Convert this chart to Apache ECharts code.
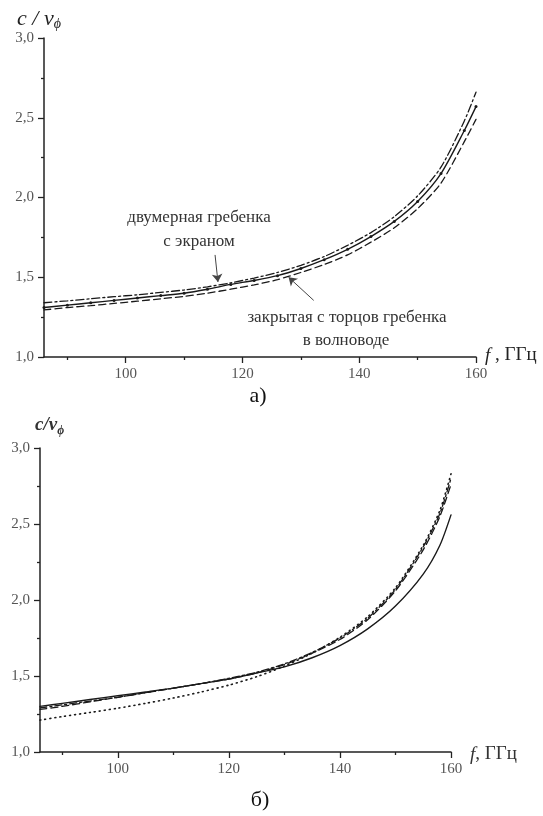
<!DOCTYPE html>
<html lang="ru">
<head>
<meta charset="utf-8">
<script src="https://cdn.jsdelivr.net/npm/echarts@6/dist/echarts.min.js"></script>
</head>
<body style="margin: 0">
<div id="container" style="width: 543px; height: 816px"></div>
<script type="text/javascript">
    // частоты, ГГц, и значения c/v_ф
    var freqA = [86, 90, 94, 98, 102, 106, 110, 114, 118, 122, 126, 130, 134, 138, 142, 146, 150, 154, 158, 160];
    var solidA = [1.31, 1.325, 1.34, 1.355, 1.37, 1.385, 1.40, 1.425, 1.455, 1.48, 1.51, 1.555, 1.61, 1.675, 1.755, 1.85, 1.975, 2.15, 2.42, 2.57];
    var dashA = [1.295, 1.31, 1.322, 1.336, 1.35, 1.365, 1.38, 1.40, 1.425, 1.452, 1.485, 1.53, 1.58, 1.64, 1.72, 1.81, 1.93, 2.09, 2.35, 2.49];
    var dashDotA = [1.34, 1.352, 1.365, 1.378, 1.39, 1.405, 1.42, 1.44, 1.465, 1.495, 1.53, 1.575, 1.63, 1.70, 1.78, 1.88, 2.01, 2.19, 2.48, 2.66];

    var freqB = [86, 90, 95, 100, 105, 110, 115, 120, 125, 130, 135, 140, 145, 150, 155, 158, 160];
    var solidB = [1.30, 1.32, 1.345, 1.37, 1.395, 1.42, 1.45, 1.48, 1.52, 1.56, 1.62, 1.70, 1.81, 1.96, 2.17, 2.36, 2.56];
    var dashB = [1.28, 1.30, 1.33, 1.36, 1.39, 1.42, 1.45, 1.48, 1.52, 1.575, 1.65, 1.74, 1.87, 2.06, 2.33, 2.55, 2.76];
    var dashDotB = [1.29, 1.31, 1.335, 1.36, 1.39, 1.42, 1.45, 1.485, 1.525, 1.58, 1.655, 1.75, 1.88, 2.07, 2.35, 2.57, 2.80];
    var dotB = [1.21, 1.233, 1.26, 1.288, 1.32, 1.355, 1.395, 1.44, 1.495, 1.565, 1.65, 1.755, 1.89, 2.08, 2.36, 2.59, 2.83];

    var xLabels = [100, 120, 140, 160];
    var xMinor = [90, 110, 130, 150];

    function pairs(xs, ys) {
        return xs.map(function (x, i) { return [x, ys[i]]; });
    }
    function comma(v) {
        return v.toFixed(1).replace('.', ',');
    }

    var serif = 'Liberation Serif';
    var axisColor = '#222';
    var labelColor = '#555';

    function xAxes(grid) {
        return [{
            type: 'value', gridIndex: grid, min: 86, max: 160, position: 'bottom',
            splitLine: {show: false},
            axisLine: {lineStyle: {color: axisColor, width: 1.5}},
            axisTick: {customValues: xLabels, length: 6, lineStyle: {color: axisColor, width: 1.3}},
            axisLabel: {customValues: xLabels, margin: 10, color: labelColor, fontFamily: serif, fontSize: 15}
        }, {
            type: 'value', gridIndex: grid, min: 86, max: 160, position: 'bottom',
            splitLine: {show: false},
            axisLine: {show: false},
            axisTick: {customValues: xMinor, length: 3, lineStyle: {color: axisColor, width: 1.3}},
            axisLabel: {show: false}
        }];
    }
    function yAxis(grid) {
        return {
            type: 'value', gridIndex: grid, min: 1, max: 3, interval: 0.5,
            splitLine: {show: false},
            axisLine: {show: true, lineStyle: {color: axisColor, width: 1.5}},
            axisTick: {show: true, length: 6, lineStyle: {color: axisColor, width: 1.3}},
            minorTick: {show: true, splitNumber: 2, length: 3, lineStyle: {color: axisColor, width: 1.3}},
            axisLabel: {formatter: comma, margin: 10, color: labelColor, fontFamily: serif, fontSize: 15}
        };
    }
    function line(xi, yi, data, type, width, extra) {
        var s = {
            type: 'line', xAxisIndex: xi, yAxisIndex: yi, data: data,
            showSymbol: false, symbol: 'none', smooth: 0.25, silent: true,
            lineStyle: {color: '#1a1a1a', width: width, type: type, cap: 'round'}
        };
        for (var k in extra) s[k] = extra[k];
        return s;
    }

    var arrowStyle = {color: '#444', width: 1, type: 'solid'};

    var myChart = echarts.init(document.getElementById('container'));
    var option = {
        animation: false,
        grid: [
            {left: 44, top: 38, width: 432, height: 319},
            {left: 40, top: 448, width: 411, height: 304}
        ],
        xAxis: xAxes(0).concat(xAxes(1)),
        yAxis: [yAxis(0), yAxis(1)],
        series: [
            line(0, 0, pairs(freqA, dashA), [7, 4], 1.3),
            line(0, 0, pairs(freqA, dashDotA), [8, 3, 2, 3], 1.3),
            line(0, 0, pairs(freqA, solidA), 'solid', 1.4, {
                showSymbol: true, symbol: 'circle', symbolSize: 3,
                itemStyle: {color: '#1a1a1a'},
                markLine: {
                    silent: true, symbol: ['none', 'arrow'], symbolSize: 8,
                    label: {show: false}, lineStyle: arrowStyle,
                    data: [
                        [{coord: [115.3, 1.64]}, {coord: [115.8, 1.47]}],
                        [{coord: [132.2, 1.355]}, {coord: [127.9, 1.50]}]
                    ]
                }
            }),
            line(2, 1, pairs(freqB, dotB), [1, 4], 1.6),
            line(2, 1, pairs(freqB, dashB), [7, 4], 1.3),
            line(2, 1, pairs(freqB, dashDotB), [7, 3, 2, 3], 1.3),
            line(2, 1, pairs(freqB, solidB), 'solid', 1.4)
        ],
        graphic: [
            {type: 'text', left: 17, top: 8, style: {
                text: '{i|c / v}{s|ϕ}', fontFamily: serif,
                rich: {i: {fontSize: 22, fontStyle: 'italic', fontFamily: serif, fill: '#222'},
                       s: {fontSize: 14, fontStyle: 'italic', fontFamily: serif, fill: '#222', padding: [10, 0, 0, 0]}}
            }},
            {type: 'text', left: 485, top: 346, style: {
                text: '{i|f}{n| , ГГц}',
                rich: {i: {fontSize: 19, fontStyle: 'italic', fontFamily: serif, fill: '#222'},
                       n: {fontSize: 19, fontFamily: serif, fill: '#222'}}
            }},
            {type: 'text', x: 199, y: 218, style: {text: 'двумерная гребенка', font: '17px "Liberation Serif"', fill: '#333', align: 'center', verticalAlign: 'middle'}},
            {type: 'text', x: 199, y: 242, style: {text: 'с экраном', font: '17px "Liberation Serif"', fill: '#333', align: 'center', verticalAlign: 'middle'}},
            {type: 'text', x: 347, y: 318, style: {text: 'закрытая с торцов гребенка', font: '17px "Liberation Serif"', fill: '#333', align: 'center', verticalAlign: 'middle'}},
            {type: 'text', x: 346, y: 341, style: {text: 'в волноводе', font: '17px "Liberation Serif"', fill: '#333', align: 'center', verticalAlign: 'middle'}},
            {type: 'text', x: 258, y: 396, style: {text: 'а)', font: '22px "Liberation Serif"', fill: '#111', align: 'center', verticalAlign: 'middle'}},
            {type: 'text', left: 35, top: 416, style: {
                text: '{i|c/v}{s|ϕ}',
                rich: {i: {fontSize: 19, fontStyle: 'italic', fontWeight: 'bold', fontFamily: serif, fill: '#333'},
                       s: {fontSize: 12, fontStyle: 'italic', fontWeight: 'bold', fontFamily: serif, fill: '#333', padding: [10, 0, 0, 0]}}
            }},
            {type: 'text', left: 470, top: 745, style: {
                text: '{i|f}{n|, ГГц}',
                rich: {i: {fontSize: 19, fontStyle: 'italic', fontFamily: serif, fill: '#333'},
                       n: {fontSize: 19, fontFamily: serif, fill: '#333'}}
            }},
            {type: 'text', x: 260, y: 800, style: {text: 'б)', font: '22px "Liberation Serif"', fill: '#111', align: 'center', verticalAlign: 'middle'}}
        ]
    };
    myChart.setOption(option);
</script>
</body>
</html>
